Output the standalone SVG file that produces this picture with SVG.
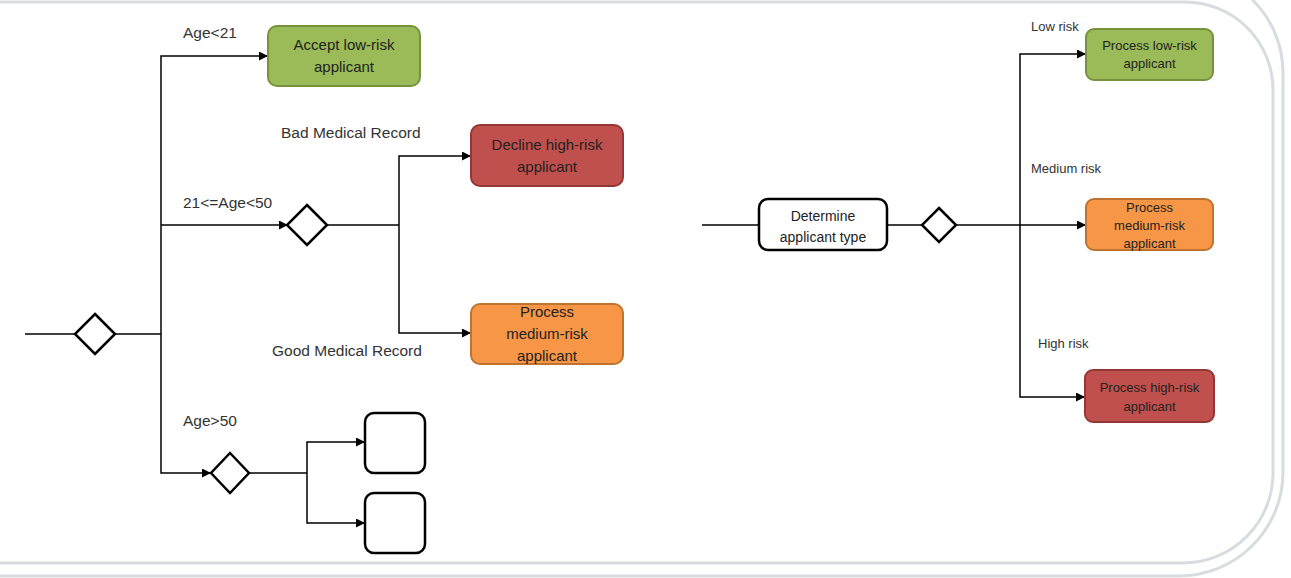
<svg xmlns="http://www.w3.org/2000/svg" width="1291" height="578" viewBox="0 0 1291 578">
<defs>
<marker id="arr" markerUnits="userSpaceOnUse" markerWidth="10" markerHeight="10" refX="9" refY="4.5" orient="auto"><path d="M0,0 L9,4.5 L0,9 z" fill="#000"/></marker>
<style>
.frame{fill:none;stroke:#D8DCE0;stroke-width:3}
.c{fill:none;stroke:#000;stroke-width:1.5}
.ca{fill:none;stroke:#000;stroke-width:1.5;marker-end:url(#arr)}
.dia{fill:#fff;stroke:#000;stroke-width:2.5}
.wb{fill:#fff;stroke:#000;stroke-width:2.5}
.g{fill:#9BBB59;stroke:#76923C;stroke-width:2}
.r{fill:#C0504D;stroke:#943634;stroke-width:2}
.o{fill:#F79646;stroke:#C0722F;stroke-width:2}
text{font-family:"Liberation Sans",Arial,sans-serif}
.bt{font-size:15px;fill:#222;text-anchor:middle}
.bs{font-size:13px;fill:#222;text-anchor:middle}
.lb{font-size:15.5px;fill:#333}
.ls{font-size:13px;fill:#333}
</style>
</defs>
<rect width="1291" height="578" fill="#fff"/>
<g id="frame">
<path class="frame" d="M-10,2 H1185 A88,88 0 0 1 1273,90 V473 A90,90 0 0 1 1183,563 H-10"/>
<path class="frame" d="M-10,-30 H1180 A103,103 0 0 1 1283,73 V472 A104,104 0 0 1 1179,576 H-10"/>
</g>
<g id="connectors">
<path class="c" d="M25,334 H75"/>
<path class="c" d="M115,334 H161"/>
<path class="ca" d="M161,334 V56 H268"/>
<path class="ca" d="M161,225 H288"/>
<path class="ca" d="M161,334 V473 H211"/>
<path class="c" d="M327,225 H399"/>
<path class="ca" d="M399,225 V156 H471"/>
<path class="ca" d="M399,225 V333 H471"/>
<path class="c" d="M249,473 H307"/>
<path class="ca" d="M307,473 V442 H365"/>
<path class="ca" d="M307,473 V523 H365"/>
<path class="c" d="M702,225 H759"/>
<path class="c" d="M887,225 H922"/>
<path class="ca" d="M956,225 H1086"/>
<path class="ca" d="M1020,225 V54 H1086"/>
<path class="ca" d="M1020,225 V397 H1085"/>
</g>
<g id="labels">
<text class="lb" x="183" y="38">Age&lt;21</text>
<text class="lb" x="183" y="208">21&lt;=Age&lt;50</text>
<text class="lb" x="183" y="426">Age&gt;50</text>
<text class="lb" x="281" y="138">Bad Medical Record</text>
<text class="lb" x="272" y="356">Good Medical Record</text>
<text class="ls" x="1031" y="31">Low risk</text>
<text class="ls" x="1031" y="173">Medium risk</text>
<text class="ls" x="1038" y="348">High risk</text>
</g>
<g id="gw-main"><path class="dia" d="M95,314 L115,334 L95,354 L75,334 z"/></g>
<g id="gw-mid"><path class="dia" d="M307,205 L327,225 L307,245 L287,225 z"/></g>
<g id="gw-old"><path class="dia" d="M230,453 L249,473 L230,493 L211,473 z"/></g>
<g id="accept-low">
<rect class="g" x="268" y="26" width="152" height="60" rx="9"/>
<text class="bt" x="344" y="50">Accept low-risk</text>
<text class="bt" x="344" y="72">applicant</text>
</g>
<g id="decline-high">
<rect class="r" x="471" y="125" width="152" height="61" rx="9"/>
<text class="bt" x="547" y="150">Decline high-risk</text>
<text class="bt" x="547" y="172">applicant</text>
</g>
<g id="process-medium-left">
<rect class="o" x="471" y="304" width="152" height="60" rx="9"/>
<text class="bt" x="547" y="317">Process</text>
<text class="bt" x="547" y="339">medium-risk</text>
<text class="bt" x="547" y="361">applicant</text>
</g>
<g id="empty-1"><rect class="wb" x="365" y="413" width="60" height="60" rx="9"/></g>
<g id="empty-2"><rect class="wb" x="365" y="493" width="60" height="60" rx="9"/></g>
<g id="determine">
<rect class="wb" x="759" y="199" width="128" height="51" rx="9"/>
<text class="bs" x="823" y="221" style="font-size:14px">Determine</text>
<text class="bs" x="823" y="242" style="font-size:14px">applicant type</text>
</g>
<g id="gw-right"><path class="dia" d="M939,208 L956,225 L939,242 L922,225 z"/></g>
<g id="process-low">
<rect class="g" x="1086" y="29" width="127" height="51" rx="8"/>
<text class="bs" x="1149.5" y="50">Process low-risk</text>
<text class="bs" x="1149.5" y="68">applicant</text>
</g>
<g id="process-medium">
<rect class="o" x="1086" y="199" width="127" height="51" rx="8"/>
<text class="bs" x="1149.5" y="212">Process</text>
<text class="bs" x="1149.5" y="230">medium-risk</text>
<text class="bs" x="1149.5" y="248">applicant</text>
</g>
<g id="process-high">
<rect class="r" x="1085" y="370" width="129" height="52" rx="8"/>
<text class="bs" x="1149.5" y="392">Process high-risk</text>
<text class="bs" x="1149.5" y="411">applicant</text>
</g>
</svg>
